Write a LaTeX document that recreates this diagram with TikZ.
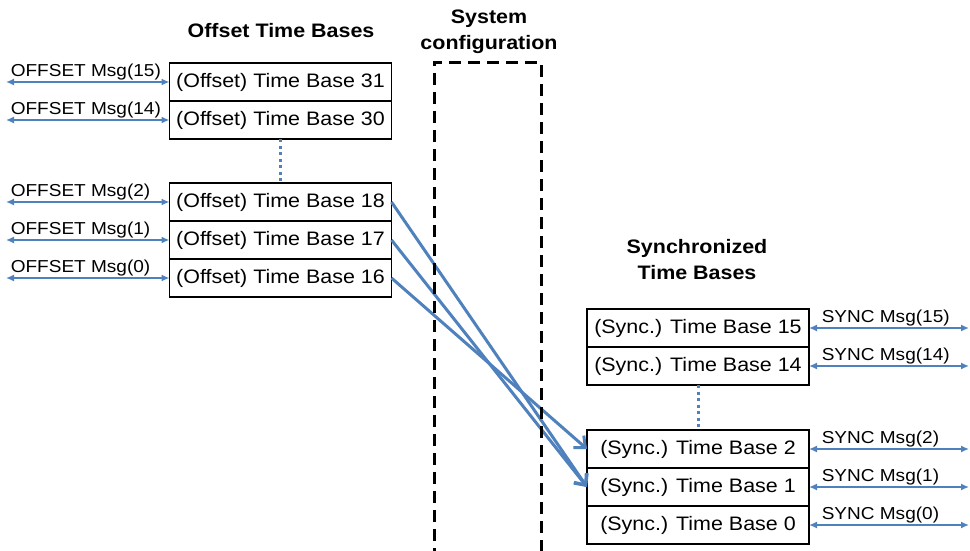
\documentclass[tikz,border=0pt]{standalone}
\usepackage{fontspec}
\setmainfont{Liberation Sans}[FakeStretch=1.1]
\usetikzlibrary{arrows.meta}
\usetikzlibrary{positioning}
\definecolor{tbblue}{RGB}{79,129,189}
\tikzset{
tbox/.style={draw, line width=1.3pt, outer sep=0pt, inner sep=0pt,
    minimum width=222pt, minimum height=38pt, font=\fontsize{19.5}{20}\selectfont},
msg/.style={tbblue, line width=1.5pt, {Latex[length=8pt,width=7pt]}-{Latex[length=8pt,width=7pt]}},
msglbl/.style={text=black, inner sep=1pt, pos=0, above right, font=\fontsize{17.3}{18}\selectfont},
offlbl/.style={msglbl, xshift=3pt},
synclbl/.style={msglbl, xshift=11pt},
map/.style={tbblue, line width=3pt, -{Straight Barb[length=9pt,width=16pt]}},
gap/.style={tbblue, line width=3pt, dash pattern=on 3pt off 3.5pt},
cfgbox/.style={line width=3pt, dash pattern=on 12pt off 7pt},
heading/.style={align=center, font=\bfseries\fontsize{19.5}{26}\selectfont},
}
\begin{document}
\begin{tikzpicture}[x=1pt,y=-1pt]
    \useasboundingbox (0,0) rectangle (970,550);
    \coordinate (lft) at (6,0);
    \coordinate (rgt) at (969,0);
    \coordinate (cfgtl) at (434,62);
    \coordinate (cfgbr) at (541,560);

    \node[heading] (offhead) at (281,31) {Offset Time Bases};
    \node[heading] (cfghead) at (489,32) {System\\configuration};
    \node[heading] (synchead) at (697,260) {Synchronized\\Time Bases};

    \node[tbox] (ob31) at (280.5,82) {(Offset) Time Base 31};
    \node[tbox, below=0pt of ob31] (ob30) {(Offset) Time Base 30};
    \node[tbox] (ob18) at (280.5,202) {(Offset) Time Base 18};
    \node[tbox, below=0pt of ob18] (ob17) {(Offset) Time Base 17};
    \node[tbox, below=0pt of ob17] (ob16) {(Offset) Time Base 16};

    \node[tbox] (sb15) at (698,328) {(Sync.) Time Base 15};
    \node[tbox, below=0pt of sb15] (sb14) {(Sync.) Time Base 14};
    \node[tbox] (sb2) at (698,449) {(Sync.) Time Base 2};
    \node[tbox, below=0pt of sb2] (sb1) {(Sync.) Time Base 1};
    \node[tbox, below=0pt of sb1] (sb0) {(Sync.) Time Base 0};

    \draw[msg] (lft |- ob31.west) -- node[offlbl] {OFFSET Msg(15)} (ob31.west);
    \draw[msg] (lft |- ob30.west) -- node[offlbl] {OFFSET Msg(14)} (ob30.west);
    \draw[msg] (lft |- ob18.west) -- node[offlbl] {OFFSET Msg(2)} (ob18.west);
    \draw[msg] (lft |- ob17.west) -- node[offlbl] {OFFSET Msg(1)} (ob17.west);
    \draw[msg] (lft |- ob16.west) -- node[offlbl] {OFFSET Msg(0)} (ob16.west);

    \draw[msg] (sb15.east) -- node[synclbl] {SYNC Msg(15)} (rgt |- sb15.east);
    \draw[msg] (sb14.east) -- node[synclbl] {SYNC Msg(14)} (rgt |- sb14.east);
    \draw[msg] (sb2.east) -- node[synclbl] {SYNC Msg(2)} (rgt |- sb2.east);
    \draw[msg] (sb1.east) -- node[synclbl] {SYNC Msg(1)} (rgt |- sb1.east);
    \draw[msg] (sb0.east) -- node[synclbl] {SYNC Msg(0)} (rgt |- sb0.east);

    \draw[gap] (ob30.south) -- (ob18.north);
    \draw[gap] (sb14.south) -- (sb2.north);

    \draw[map] (ob18.east) -- (sb1.west);
    \draw[map] (ob17.east) -- (sb1.west);
    \draw[map] (ob16.east) -- (sb2.west);

    \draw[cfgbox] (cfgtl |- cfgbr) -- (cfgtl) -- (cfgbr |- cfgtl) -- (cfgbr);
\end{tikzpicture}
\end{document}
